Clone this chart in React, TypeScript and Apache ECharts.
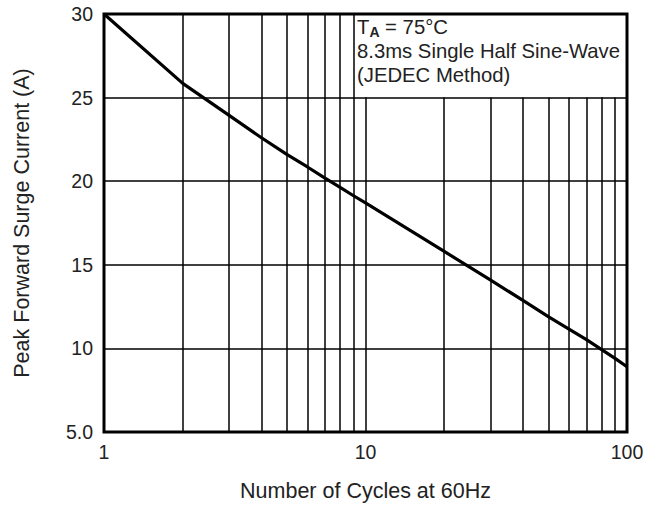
import React, { useEffect, useRef } from "react";
import * as echarts from "echarts";

const cycles = [1, 2, 3, 4, 5, 6, 7, 8, 9, 10, 20, 30, 40, 50, 60, 70, 80, 90, 100];
const surge = [30, 25.85, 23.95, 22.6, 21.6, 20.85, 20.18, 19.63, 19.13, 18.7, 15.8, 14.1, 12.87, 11.9, 11.15, 10.52, 9.93, 9.4, 8.9];

const yTickValues = [5, 10, 15, 20, 25, 30];
const yTickLabels = ["5.0", "10", "15", "20", "25", "30"];
const xTickValues = [1, 10, 100];
const xTickLabels = ["1", "10", "100"];

// vertical grid lines (log minor divisions)
const fullGridX = [2, 3, 4, 5, 6, 7, 8, 9];
const shortGridX = [10, 20, 30, 40, 50, 60, 70, 80, 90];
const boxBottom = 25; // annotation box sits above this value

const yMin = 5;
const yMax = 30;

const FONT = "'Liberation Sans', Arial, Helvetica, sans-serif";

export default function App() {
  const ref = useRef<HTMLDivElement>(null);

  useEffect(() => {
    if (!ref.current) return;
    const chart = echarts.init(ref.current, undefined, { renderer: "svg" });

    const gridLines: any[] = [];
    fullGridX.forEach((x) => {
      gridLines.push([{ coord: [x, yMin] }, { coord: [x, yMax] }]);
    });
    shortGridX.forEach((x) => {
      gridLines.push([{ coord: [x, yMin] }, { coord: [x, boxBottom] }]);
    });

    chart.setOption({
      animation: false,
      backgroundColor: "#ffffff",
      grid: {
        left: 104,
        top: 14,
        width: 523,
        height: 418,
        show: true,
        borderColor: "#000",
        borderWidth: 3,
        backgroundColor: "transparent",
      },
      xAxis: {
        type: "log",
        logBase: 10,
        min: 1,
        max: 100,
        name: "Number of Cycles at 60Hz",
        nameLocation: "middle",
        nameGap: 48,
        nameTextStyle: { fontFamily: FONT, fontSize: 21.5, color: "#222" },
        axisLine: { show: false },
        axisTick: { show: false },
        splitLine: { show: false },
        minorTick: { show: false },
        minorSplitLine: { show: false },
        axisLabel: {
          fontFamily: FONT,
          fontSize: 19.5,
          color: "#222",
          margin: 10,
          formatter: (v: number) => {
            const i = xTickValues.findIndex((t) => Math.abs(t - v) < 1e-6);
            return i >= 0 ? xTickLabels[i] : "";
          },
        },
      },
      yAxis: {
        type: "value",
        min: yMin,
        max: yMax,
        interval: 5,
        name: "Peak Forward Surge Current (A)",
        nameLocation: "middle",
        nameGap: 71,
        nameTextStyle: { fontFamily: FONT, fontSize: 21.5, color: "#222" },
        axisLine: { show: false },
        axisTick: { show: false },
        splitLine: { show: true, lineStyle: { color: "#000", width: 1.5 } },
        axisLabel: {
          fontFamily: FONT,
          fontSize: 19.5,
          color: "#222",
          margin: 11,
          formatter: (v: number) => {
            const i = yTickValues.indexOf(v);
            return i >= 0 ? yTickLabels[i] : String(v);
          },
        },
      },
      graphic: [
        {
          type: "text",
          left: 357,
          top: 17,
          z: 10,
          style: {
            text: "{t|T}{sub|A}{t| = 75°C}\n{t|8.3ms Single Half Sine-Wave}\n{t|(JEDEC Method)}",
            fontFamily: FONT,
            fill: "#222",
            rich: {
              t: { fontFamily: FONT, fontSize: 20.3, lineHeight: 24, fill: "#222" },
              sub: {
                fontFamily: FONT,
                fontSize: 14,
                lineHeight: 14,
                fontWeight: "bold",
                verticalAlign: "bottom",
                fill: "#222",
              },
            },
          },
        },
      ],
      series: [
        {
          type: "line",
          data: cycles.map((c, i) => [c, surge[i]]),
          showSymbol: false,
          symbol: "none",
          smooth: false,
          lineStyle: { color: "#000", width: 3.2, join: "round" },
          z: 6,
          markLine: {
            silent: true,
            symbol: ["none", "none"],
            label: { show: false },
            lineStyle: { color: "#000", width: 1.5, type: "solid" },
            emphasis: { disabled: true },
            data: gridLines,
          },
        },
      ],
    });

    return () => chart.dispose();
  }, []);

  return (
    <div
      ref={ref}
      style={{ position: "fixed", left: 0, top: 0, width: 660, height: 507, background: "#fff" }}
    />
  );
}
